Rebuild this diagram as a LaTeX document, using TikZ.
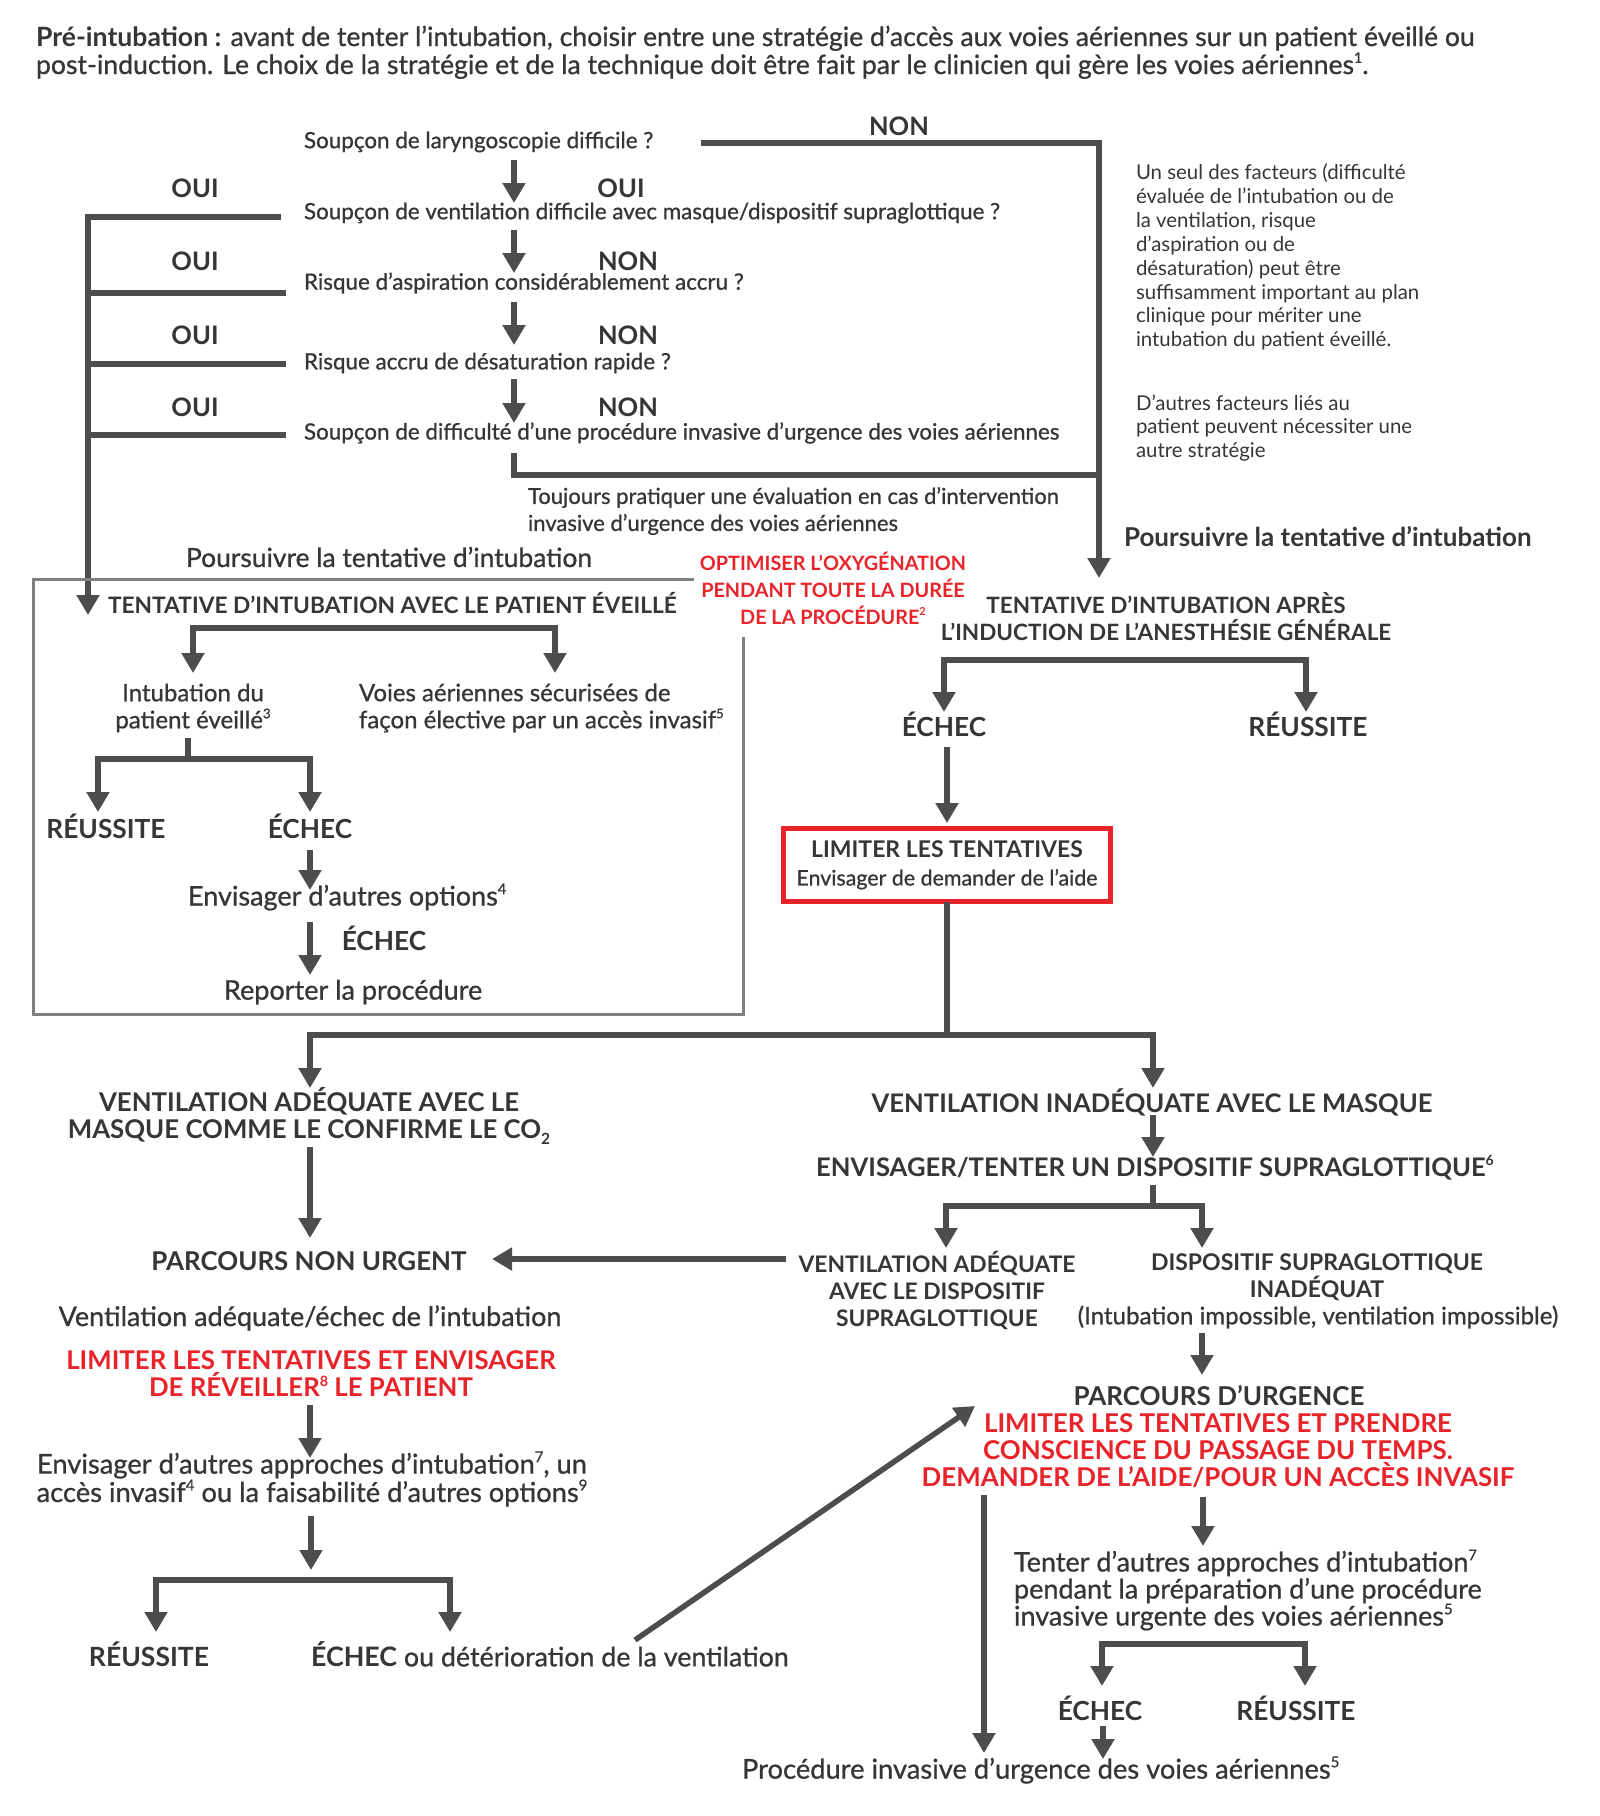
\documentclass[tikz,border=0pt]{standalone}
\usepackage{fontspec}
\setmainfont{Lato}
\newfontfamily\medf{Lato}[FakeBold=0.8]
\usetikzlibrary{arrows.meta}
\definecolor{txt}{HTML}{363638}
\definecolor{lnc}{HTML}{4D4D50}
\definecolor{redc}{HTML}{E8232A}
\definecolor{frm}{HTML}{808080}
\newcommand{\fz}[2]{\fontsize{#1}{#2}\selectfont}
\newcommand{\bx}[1]{{\rmfamily\bfseries #1}}
\newcommand{\sps}[1]{\raisebox{0.42em}{\fontsize{0.55em}{0.6em}\selectfont #1}}
\tikzset{
  t/.style={inner sep=0pt, outer sep=0pt, text=txt},
  md/.style={t, font={\medf\fz{#1}{27}}},
  bd/.style={t, font={\bfseries\fz{#1}{27}}},
  rg/.style={t, font={\fz{#1}{23.9}}},
  rd/.style={t, font={\bfseries\fz{#1}{27}}, text=redc},
  ln/.style={draw=lnc, line width=5.5pt},
  arr/.style={ln, -{Triangle[width=22pt,length=20pt]}},
  frmline/.style={draw=frm, line width=3pt},
}
\begin{document}
\begin{tikzpicture}[x=1pt,y=-1pt]
\fill[white] (0,0) rectangle (1600,1816);
\useasboundingbox (0,0) rectangle (1600,1816);

% header
\node[md=26.6, anchor=base west] (h1) at (36,46) {\bx{Pré-intubation :} avant de tenter l’intubation, choisir entre une stratégie d’accès aux voies aériennes sur un patient éveillé ou};
\node[md=26.6, anchor=base west] (h2) at (36,74) {post-induction. Le choix de la stratégie et de la technique doit être fait par le clinicien qui gère les voies aériennes\sps{1}.};

% questions
\node[md=22.4, anchor=west] (q1) at (304,142) {Soupçon de laryngoscopie difficile ?};
\node[md=22.4, anchor=west] (q2) at (304,213) {Soupçon de ventilation difficile avec masque/dispositif supraglottique ?};
\node[md=22.4, anchor=west] (q3) at (304,283) {Risque d’aspiration considérablement accru ?};
\node[md=22.4, anchor=west] (q4) at (304,363) {Risque accru de désaturation rapide ?};
\node[md=22.4, anchor=west] (q5) at (304,433) {Soupçon de difficulté d’une procédure invasive d’urgence des voies aériennes};

% yes / no
\node[bd=25.5] (no0) at (899,126) {NON};
\node[bd=25.5] (yl1) at (195,188) {OUI};
\node[bd=25.5] (yr1) at (621,188) {OUI};
\node[bd=25.5] (yl2) at (195,261) {OUI};
\node[bd=25.5] (nr2) at (628,261) {NON};
\node[bd=25.5] (yl3) at (195,335) {OUI};
\node[bd=25.5] (nr3) at (628,335) {NON};
\node[bd=25.5] (yl4) at (195,407) {OUI};
\node[bd=25.5] (nr4) at (628,407) {NON};

% top connectors
\coordinate (r0) at (701,143); \coordinate (r1) at (1099,143); \coordinate (r2) at (1099,578);
\draw[arr] (r0) -- (r1) -- (r2);
\coordinate (c1a) at (514,160); \coordinate (c1b) at (514,203); \draw[arr] (c1a) -- (c1b);
\coordinate (c2a) at (514,230); \coordinate (c2b) at (514,273); \draw[arr] (c2a) -- (c2b);
\coordinate (c3a) at (514,302); \coordinate (c3b) at (514,345); \draw[arr] (c3a) -- (c3b);
\coordinate (c4a) at (514,379); \coordinate (c4b) at (514,423); \draw[arr] (c4a) -- (c4b);
\coordinate (l1) at (281,217); \coordinate (lc) at (88,217); \coordinate (lt) at (88,615);
\draw[arr] (l1) -- (lc) -- (lt);
\coordinate (l2) at (286,293); \draw[ln] (l2) -- (l2 -| lc);
\coordinate (l3) at (286,364); \draw[ln] (l3) -- (l3 -| lc);
\coordinate (l4) at (286,435); \draw[ln] (l4) -- (l4 -| lc);
\coordinate (b0) at (514,453); \coordinate (b1) at (514,475);
\draw[ln] (b0) -- (b1) -- (b1 -| r1);

% notes
\node[md=22, anchor=west, align=left] (tj) at (528,511) {Toujours pratiquer une évaluation en cas d’intervention\\invasive d’urgence des voies aériennes};
\node[rg=20.4, anchor=west, align=left] (nt1) at (1136,257) {Un seul des facteurs (difficulté\\évaluée de l’intubation ou de\\la ventilation, risque\\d’aspiration ou de\\désaturation) peut être\\suffisamment important au plan\\clinique pour mériter une\\intubation du patient éveillé.};
\node[rg=20.4, anchor=west, align=left] (nt2) at (1136,428) {D’autres facteurs liés au\\patient peuvent nécessiter une\\autre stratégie};
\node[bd=26, anchor=west] (pr) at (1124,537) {Poursuivre la tentative d’intubation};
\node[md=26.4, anchor=west] (pl) at (186,557) {Poursuivre la tentative d’intubation};

% awake frame
\coordinate (f0) at (694,579); \coordinate (f1) at (33,579); \coordinate (f2) at (33,1014);
\coordinate (f3) at (743,1014); \coordinate (f4) at (743,637);
\draw[frmline] (f0) -- (f1) -- (f2) -- (f3) -- (f4);
\node[rd=19.8, align=center] (opt) at (833,588) {OPTIMISER L’OXYGÉNATION\\PENDANT TOUTE LA DURÉE\\DE LA PROCÉDURE\sps{2}};

\node[bd=22.7, anchor=west] (aw) at (108,603) {TENTATIVE D’INTUBATION AVEC LE PATIENT ÉVEILLÉ};
\coordinate (awj) at (374,628); \coordinate (awl) at (193,673); \coordinate (awr) at (555,673);
\draw[arr] (awj) -| (awl); \draw[arr] (awj) -| (awr);
\node[md=24, align=center] (ipe) at (193,708) {Intubation du\\patient éveillé\sps{3}};
\node[md=24, anchor=west, align=left] (vas) at (359,708) {Voies aériennes sécurisées de\\façon élective par un accès invasif\sps{5}};
\coordinate (s1a) at (188,738); \coordinate (s1b) at (188,759);
\coordinate (s1l) at (98,812); \coordinate (s1r) at (310,812);
\draw[ln] (s1a) -- (s1b); \draw[arr] (s1b) -| (s1l); \draw[arr] (s1b) -| (s1r);
\node[bd=26.3] (aok) at (106,826) {RÉUSSITE};
\node[bd=26.3] (afl) at (310,826) {ÉCHEC};
\coordinate (e1a) at (310,850); \coordinate (e1b) at (310,890); \draw[arr] (e1a) -- (e1b);
\node[md=27, anchor=west] (eao) at (188,897) {Envisager d’autres options\sps{4}};
\coordinate (e2a) at (310,922); \coordinate (e2b) at (310,975); \draw[arr] (e2a) -- (e2b);
\node[bd=26.3] (afl2) at (384,938) {ÉCHEC};
\node[md=27, anchor=west] (rep) at (224,992) {Reporter la procédure};

% post-induction
\node[bd=22.5, align=center] (pi) at (1166,617) {TENTATIVE D’INTUBATION APRÈS\\L’INDUCTION DE L’ANESTHÉSIE GÉNÉRALE};
\coordinate (pij) at (1125,660); \coordinate (pil) at (944,712); \coordinate (pir) at (1306,712);
\draw[arr] (pij) -| (pil); \draw[arr] (pij) -| (pir);
\node[bd=26.3] (pfl) at (944,724) {ÉCHEC};
\node[bd=26.3] (pok) at (1308,724) {RÉUSSITE};
\coordinate (p1a) at (947,747); \coordinate (p1b) at (947,823); \draw[arr] (p1a) -- (p1b);
\node[draw=redc, line width=5pt, minimum width=327pt, minimum height=73pt, inner sep=0pt, outer sep=0pt, align=center, text=txt, font={\fz{23}{28}}] (lim) at (947,865) {{\bfseries LIMITER LES TENTATIVES}\\{\medf\fz{21.4}{28}Envisager de demander de l’aide}};
\coordinate (lj) at (947,1035); \coordinate (ll) at (310,1088); \coordinate (lr) at (1153,1088);
\draw[ln] (lim.south) -- (lj); \draw[arr] (lj) -| (ll); \draw[arr] (lj) -| (lr);

% left lower
\node[bd=25.8, align=center] (vam) at (309,1116) {VENTILATION ADÉQUATE AVEC LE\\MASQUE COMME LE CONFIRME LE CO\raisebox{-0.25em}{\fontsize{0.6em}{0.6em}\selectfont 2}};
\coordinate (v1a) at (310,1147); \coordinate (v1b) at (310,1238); \draw[arr] (v1a) -- (v1b);
\node[bd=25.9] (pnu) at (309,1261) {PARCOURS NON URGENT};
\node[md=27] (vae) at (310,1318) {Ventilation adéquate/échec de l’intubation};
\node[rd=25.8, align=center] (lte) at (311,1374) {LIMITER LES TENTATIVES ET ENVISAGER\\DE RÉVEILLER\sps{8} LE PATIENT};
\coordinate (v2a) at (310,1405); \coordinate (v2b) at (310,1458); \draw[arr] (v2a) -- (v2b);
\node[md=27.3, align=center] (eaa) at (312,1479) {Envisager d’autres approches d’intubation\sps{7}, un\\accès invasif\sps{4} ou la faisabilité d’autres options\sps{9}};
\coordinate (v3a) at (311,1516); \coordinate (v3b) at (311,1570); \draw[arr] (v3a) -- (v3b);
\coordinate (bj) at (311,1580); \coordinate (bl) at (156,1632); \coordinate (br) at (450,1632);
\draw[arr] (bj) -| (bl); \draw[arr] (bj) -| (br);
\node[bd=26.5] (bok) at (149,1654) {RÉUSSITE};
\node[md=26.8, anchor=west] (bfl) at (311,1654) {\bx{ÉCHEC} ou détérioration de la ventilation};

% right lower
\node[bd=25.6] (vim) at (1152,1102) {VENTILATION INADÉQUATE AVEC LE MASQUE};
\coordinate (w1a) at (1153,1115); \coordinate (w1b) at (1153,1157); \draw[arr] (w1a) -- (w1b);
\node[bd=25.6] (ets) at (1155,1168) {ENVISAGER/TENTER UN DISPOSITIF SUPRAGLOTTIQUE\sps{6}};
\coordinate (w2a) at (1153,1185); \coordinate (w2b) at (1153,1206);
\coordinate (w2l) at (946,1248); \coordinate (w2r) at (1202,1248);
\draw[ln] (w2a) -- (w2b); \draw[arr] (w2b) -| (w2l); \draw[arr] (w2b) -| (w2r);
\node[bd=22.8, align=center] (vad) at (937,1290) {VENTILATION ADÉQUATE\\AVEC LE DISPOSITIF\\SUPRAGLOTTIQUE};
\node[bd=23, align=center] (dsi) at (1317,1277) {DISPOSITIF SUPRAGLOTTIQUE\\INADÉQUAT};
\node[md=24.1] (imp) at (1318,1317) {(Intubation impossible, ventilation impossible)};
\coordinate (w3a) at (786,1259); \coordinate (w3b) at (492,1259); \draw[arr] (w3a) -- (w3b);
\coordinate (w4a) at (1202,1333); \coordinate (w4b) at (1202,1375); \draw[arr] (w4a) -- (w4b);
\node[bd=26] (pdu) at (1219,1396) {PARCOURS D’URGENCE};
\node[rd=25.9, align=center] (ltp) at (1218,1451) {LIMITER LES TENTATIVES ET PRENDRE\\CONSCIENCE DU PASSAGE DU TEMPS.\\DEMANDER DE L’AIDE/POUR UN ACCÈS INVASIF};
\coordinate (dg0) at (635,1640); \coordinate (dg1) at (975,1406); \draw[arr] (dg0) -- (dg1);
\coordinate (w5a) at (984,1495); \coordinate (w5b) at (984,1753); \draw[arr] (w5a) -- (w5b);
\coordinate (w6a) at (1203,1497); \coordinate (w6b) at (1203,1546); \draw[arr] (w6a) -- (w6b);
\node[md=27, anchor=west, align=left] (tda) at (1014,1590) {Tenter d’autres approches d’intubation\sps{7}\\pendant la préparation d’une procédure\\invasive urgente des voies aériennes\sps{5}};
\coordinate (uj) at (1203,1644); \coordinate (ul) at (1102,1686); \coordinate (ur) at (1305,1686);
\draw[arr] (uj) -| (ul); \draw[arr] (uj) -| (ur);
\node[bd=26.3] (ufl) at (1100,1708) {ÉCHEC};
\node[bd=26.3] (uok) at (1296,1708) {RÉUSSITE};
\coordinate (w7a) at (1103,1726); \coordinate (w7b) at (1103,1759); \draw[arr] (w7a) -- (w7b);
\node[md=27.3, anchor=west] (piu) at (742,1770) {Procédure invasive d’urgence des voies aériennes\sps{5}};
\end{tikzpicture}
\end{document}
